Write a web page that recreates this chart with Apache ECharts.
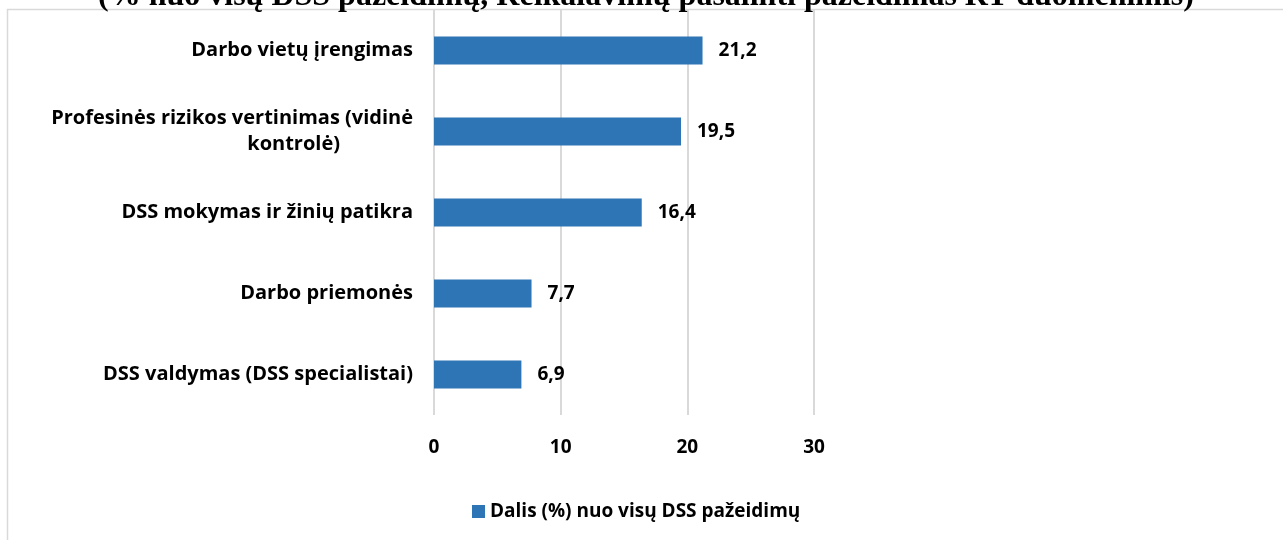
<!DOCTYPE html>
<html>
<head>
<meta charset="utf-8">
<script src="https://cdn.jsdelivr.net/npm/echarts@6/dist/echarts.min.js"></script>
<style>
  html, body { margin: 0; padding: 0; background: #fff; }
  #main { width: 1283px; height: 540px; }
</style>
</head>
<body>
<div id="main"></div>
<script>
let categories = [
    'Darbo vietų įrengimas',
    'Profesinės rizikos vertinimas (vidinė\nkontrolė)',
    'DSS mokymas ir žinių patikra',
    'Darbo priemonės',
    'DSS valdymas (DSS specialistai)'
];
let values = [21.2, 19.5, 16.4, 7.7, 6.9];
let seriesName = 'Dalis (%) nuo visų DSS pažeidimų';
let titleText = '(% nuo visų DSS pažeidimų, Reikalavimų pašalinti pažeidimas RT duomenimis)';

let font = '"Open Sans", sans-serif';
let myChart = echarts.init(document.getElementById('main'));
let option = {
    backgroundColor: '#fff',
    animation: false,
    title: {
        text: titleText,
        left: 641,
        textAlign: 'center',
        top: -24,
        textStyle: {
            fontFamily: '"Liberation Serif", serif',
            fontWeight: 'bold',
            fontSize: 32,
            color: '#000'
        }
    },
    graphic: [{
        type: 'rect',
        shape: { x: 7.5, y: 9.5, width: 1400, height: 600 },
        style: { fill: 'none', stroke: '#d9d9d9', lineWidth: 1.5 },
        z: -1
    }],
    grid: {
        left: 434,
        right: 469,
        top: 10,
        height: 405,
        containLabel: false
    },
    legend: {
        data: [seriesName],
        left: 467,
        top: 497,
        itemWidth: 13,
        itemHeight: 13,
        itemGap: 5,
        icon: 'rect',
        textStyle: { fontFamily: font, fontWeight: 'bold', fontSize: 19, color: '#000' }
    },
    xAxis: {
        type: 'value',
        min: 0,
        max: 30,
        interval: 10,
        axisLine: { show: false },
        axisTick: { show: false },
        splitLine: { show: true, lineStyle: { color: '#d9d9d9', width: 2 } },
        axisLabel: {
            margin: 23,
            fontFamily: font,
            fontWeight: 'bold',
            fontSize: 19,
            color: '#000'
        }
    },
    yAxis: {
        type: 'category',
        data: categories,
        inverse: true,
        axisLine: { show: false },
        axisTick: { show: false },
        axisLabel: {
            margin: 21,
            align: 'right',
            lineHeight: 26,
            fontFamily: font,
            fontWeight: 'bold',
            fontSize: 20,
            color: '#000',
            formatter: function (v) {
                let parts = v.split('\n');
                if (parts.length < 2) return v;
                return parts[0] + '\n{b|' + parts[1] + '}';
            },
            rich: {
                b: {
                    fontFamily: font,
                    fontWeight: 'bold',
                    fontSize: 20,
                    color: '#000',
                    lineHeight: 26,
                    padding: [0, 73, 0, 0]
                }
            }
        }
    },
    series: [{
        name: seriesName,
        type: 'bar',
        data: values,
        barWidth: 28,
        itemStyle: { color: '#2e75b6' },
        label: {
            show: true,
            position: 'right',
            distance: 16,
            fontFamily: font,
            fontWeight: 'bold',
            fontSize: 19,
            color: '#000',
            formatter: function (p) { return p.value.toFixed(1).replace('.', ','); }
        }
    }]
};
myChart.setOption(option);
</script>
</body>
</html>
